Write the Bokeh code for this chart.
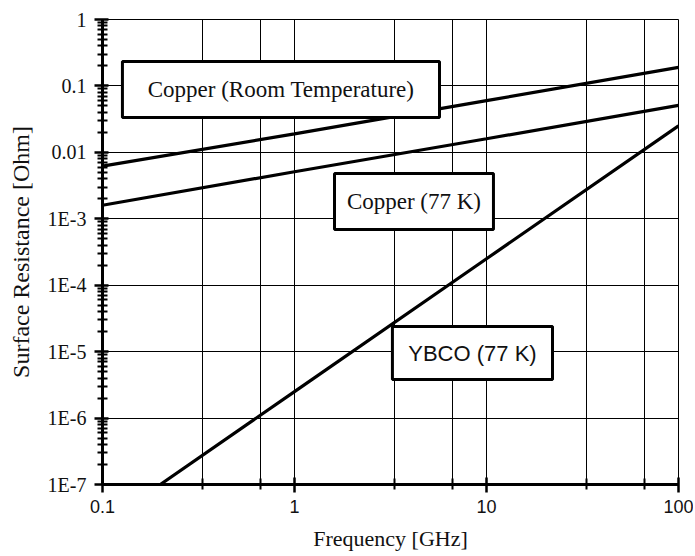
from bokeh.plotting import figure
from bokeh.models import Range1d, FixedTicker, CustomJSTickFormatter, BoxAnnotation, Label
from bokeh.embed import file_html
from bokeh.resources import INLINE

# ---- data ----
freq_cu = [0.1, 1, 10, 100]
rs_cu_room = [0.0062, 0.019, 0.060, 0.19]
rs_cu_77 = [0.0016, 0.0051, 0.016, 0.051]
freq_ybco = [0.2, 1, 10, 100]
rs_ybco = [1.0e-7, 2.5e-6, 2.5e-4, 0.025]

x_tick_values = [0.1, 1, 10, 100]
x_tick_labels = ["0.1", "1", "10", "100"]
x_minor_values = [1/3, 2/3, 10/3, 20/3, 100/3, 200/3]
y_tick_values = [1, 0.1, 0.01, 1e-3, 1e-4, 1e-5, 1e-6, 1e-7]
y_tick_labels = ["1", "0.1", "0.01", "1E-3", "1E-4", "1E-5", "1E-6", "1E-7"]
y_minor_values = [k * d for d in y_tick_values[1:] for k in range(2, 10)]
series_labels = ["Copper (Room Temperature)", "Copper (77 K)", "YBCO (77 K)"]

SERIF = "Liberation Serif"
SANS = "Liberation Sans"

p = figure(width=693, height=556, x_axis_type="log", y_axis_type="log",
           x_range=Range1d(0.1, 100), y_range=Range1d(1e-7, 1),
           output_backend="svg", toolbar_location=None,
           min_border_left=102, min_border_right=15, min_border_top=19, min_border_bottom=72)
p.background_fill_color = "white"
p.border_fill_color = "white"
p.outline_line_color = "black"
p.outline_line_width = 1

fmt_code = """
const lt = Math.log10(tick);
for (let i = 0; i < vals.length; i++) {
  if (Math.abs(Math.log10(vals[i]) - lt) < 1e-6) return labs[i];
}
return "";
"""

# x axis
p.xaxis.ticker = FixedTicker(ticks=x_tick_values, minor_ticks=x_minor_values)
p.xaxis.formatter = CustomJSTickFormatter(args=dict(vals=x_tick_values, labs=x_tick_labels), code=fmt_code)
p.xaxis.axis_label = "Frequency [GHz]"
p.xaxis.major_label_text_font = SANS
p.xaxis.major_label_text_font_size = "18px"
p.xaxis.major_label_text_color = "#111"
p.xaxis.major_label_standoff = 7
p.xaxis.major_tick_in = 7
p.xaxis.major_tick_out = 8
p.xaxis.minor_tick_in = 6
p.xaxis.minor_tick_out = 5
p.xaxis.axis_label_standoff = 10
p.xaxis.axis_label_text_font_size = "22px"

# y axis
p.yaxis.ticker = FixedTicker(ticks=y_tick_values, minor_ticks=y_minor_values)
p.yaxis.formatter = CustomJSTickFormatter(args=dict(vals=y_tick_values, labs=y_tick_labels), code=fmt_code)
p.yaxis.axis_label = "Surface Resistance [Ohm]"
p.yaxis.major_label_text_font = SERIF
p.yaxis.major_label_text_font_size = "20px"
p.yaxis.major_label_text_color = "#111"
p.yaxis.major_label_standoff = 8
p.yaxis.major_tick_in = 6
p.yaxis.major_tick_out = 8
p.yaxis.minor_tick_in = 5
p.yaxis.minor_tick_out = 5
p.yaxis.axis_label_standoff = 11
p.yaxis.axis_label_text_font_size = "24px"

for ax in (p.xaxis, p.yaxis):
    ax.axis_line_color = "black"
    ax.axis_line_width = 3
    ax.major_tick_line_color = "black"
    ax.major_tick_line_width = 2.5
    ax.minor_tick_line_color = "black"
    ax.minor_tick_line_width = 2
    ax.axis_label_text_font = SERIF
    ax.axis_label_text_font_style = "normal"
    ax.axis_label_text_color = "#111"

p.xgrid.grid_line_color = "black"
p.xgrid.grid_line_width = 1
p.xgrid.minor_grid_line_color = "black"
p.xgrid.minor_grid_line_width = 1
p.ygrid.grid_line_color = "black"
p.ygrid.grid_line_width = 1

# curves
p.line(freq_cu, rs_cu_room, line_color="black", line_width=3.2)
p.line(freq_cu, rs_cu_77, line_color="black", line_width=3.2)
p.line(freq_ybco, rs_ybco, line_color="black", line_width=3.2)

# label boxes
boxes = [
    dict(left=0.127, right=5.69, top=0.233, bottom=0.0335, cx=0.851, cy=0.0883, font=SERIF, size="23px"),
    dict(left=1.616, right=10.87, top=0.00481, bottom=6.9e-4, cx=4.19, cy=1.82e-3, font=SERIF, size="23px"),
    dict(left=3.236, right=22.07, top=2.39e-5, bottom=3.81e-6, cx=8.45, cy=9.54e-6, font=SANS, size="22px"),
]
for b in boxes:
    p.add_layout(BoxAnnotation(left=b["left"], right=b["right"], top=b["top"], bottom=b["bottom"],
                               fill_color="white", fill_alpha=1.0,
                               line_color="black", line_alpha=1.0, line_width=3))
for b, txt in zip(boxes, series_labels):
    p.add_layout(Label(x=b["cx"], y=b["cy"], text=txt, text_align="center", text_baseline="middle",
                       text_font=b["font"], text_font_size=b["size"], text_color="#111"))

open("out.html", "w").write(file_html(p, INLINE))
